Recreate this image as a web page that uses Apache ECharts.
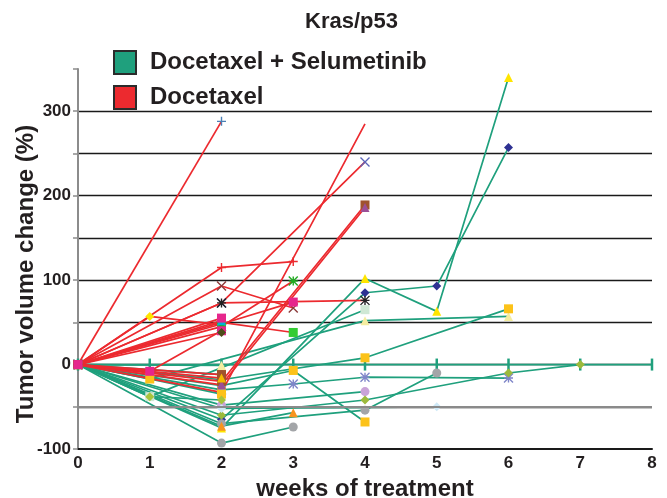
<!DOCTYPE html>
<html>
<head>
<meta charset="utf-8">
<script src="https://cdn.jsdelivr.net/npm/echarts@6/dist/echarts.min.js"></script>
<style>html,body{margin:0;padding:0;background:#fff}#c{width:667px;height:498px}</style>
</head>
<body>
<div id="c"></div>
<script>
// ---- data: weeks of treatment vs tumor volume change (%) ----
const xTicks = [0, 1, 2, 3, 4, 5, 6, 7, 8];
const yLabelValues = [-100, 0, 100, 200, 300];

// Docetaxel + Selumetinib (green)
const ds01 = [[0,0],[1,0],[2,0],[3,0],[4,0],[5,0],[6,0],[7,0],[8,0]];
const ds02 = [[0,0],[2,-75],[4,102],[5,63],[6,340]];
const ds03 = [[0,0],[2,-65],[4,85],[5,93],[6,257]];
const ds04 = [[0,0],[1,-38],[4,65]];
const ds05 = [[0,0],[1,-17],[4,52],[6,57]];
const ds06 = [[0,0],[2,-18],[4,8],[6,66]];
const ds07 = [[0,0],[2,-25],[3,-7],[4,-68]];
const ds08 = [[0,0],[2,-30],[3,-23],[4,-15],[6,-16]];
const ds09 = [[0,0],[2,-48],[4,-32]];
const ds10 = [[0,0],[2,-60],[4,-42],[6,-10],[7,0]];
const ds11 = [[0,0],[2,-70],[4,-54],[5,-10]];
const ds12 = [[0,0],[2,-73],[3,-57]];
const ds13 = [[0,0],[2,-93],[3,-74]];
const ds14 = [[0,0],[2,-52],[5,-50]];
const ds15 = [[0,0],[1,-17],[2,-35]];
const ds16 = [[0,0],[1,-38],[2,-42]];
const ds17 = [[0,0],[2,-1]];
const ds18 = [[0,0],[2,-12]];

// Docetaxel (red)
const dx01 = [[0,0],[2,288]];
const dx02 = [[0,0],[1,57],[2,47]];
const dx03 = [[0,0],[2,115],[3,122]];
const dx04 = [[0,0],[2,93],[3,67]];
const dx05 = [[0,0],[2,73],[4,240]];
const dx06 = [[0,0],[2,73],[4,76]];
const dx07 = [[0,0],[2,48],[3,74]];
const dx08 = [[0,0],[2,50],[3,38]];
const dx09 = [[0,0],[2,45],[3,99]];
const dx10 = [[0,0],[2,-20],[4,189]];
const dx11 = [[0,0],[2,-24],[4,186]];
const dx12 = [[0,0],[2,-33],[4,285]];
const dx13 = [[0,0],[1,-8],[2,40]];
const dx14 = [[0,0],[2,38]];
const dx15 = [[0,0],[2,52]];
const dx16 = [[0,0],[2,-12]];
const dx17 = [[0,0],[2,-16]];
const dx18 = [[0,0],[2,55]];

// ---- styling ----
const GREEN = '#1fa07d';
const RED = '#ec2a2f';
const NAME_G = 'Docetaxel + Selumetinib';
const NAME_R = 'Docetaxel';
const SYM = {
  plus: 'path://M0,5L10,5M5,0L5,10',
  cross: 'path://M0,0L10,10M10,0L0,10',
  star: 'path://M0,0L10,10M10,0L0,10M5,0L5,10M0,5L10,5',
  bar: 'rect', sq: 'rect', tri: 'triangle', dia: 'diamond', cir: 'circle', none: 'none'
};
const strokeSyms = ['plus', 'cross', 'star'];

const greenSet = [
  [ds01, 'bar', GREEN], [ds02, 'tri', '#ffe500'], [ds03, 'dia', '#2e3192'],
  [ds04, 'sq', '#cfe8d4'], [ds05, 'tri', '#f4eda0'], [ds06, 'sq', '#fcc219'],
  [ds07, 'sq', '#fcc219'], [ds08, 'star', '#7f86c9'], [ds09, 'cir', '#c9a3d8'],
  [ds10, 'dia', '#9cba3c'], [ds11, 'cir', '#a3a5a8'], [ds12, 'tri', '#f7941e'],
  [ds13, 'cir', '#a3a5a8'], [ds14, 'dia', '#cfe9f7'], [ds15, 'sq', '#fcc219'],
  [ds16, 'dia', '#a8c43c'], [ds17, 'tri', '#f4eda0'], [ds18, 'sq', '#a0522d']
];
const redSet = [
  [dx01, 'plus', '#4a7fb5'], [dx02, 'dia', '#ffe500'], [dx03, 'plus', RED],
  [dx04, 'cross', '#8b3a3a'], [dx05, 'cross', '#5a64b8'], [dx06, 'star', '#222222'],
  [dx07, 'sq', '#e6268c'], [dx08, 'sq', '#33cc33'], [dx09, 'star', '#22aa22'],
  [dx10, 'sq', '#a0522d'], [dx11, 'tri', '#9b4f96'], [dx12, 'none', RED],
  [dx13, 'sq', '#e6268c'], [dx14, 'dia', '#4d4d1a'], [dx15, 'tri', '#00b0d8'],
  [dx16, 'sq', '#a0522d'], [dx17, 'tri', '#f5b800'], [dx18, 'sq', '#e6268c']
];

function mk(name, lineColor, entry) {
  const [data, sym, c] = entry;
  const stroke = strokeSyms.indexOf(sym) >= 0;
  return {
    type: 'line', name: name, data: data,
    symbol: SYM[sym],
    symbolSize: sym === 'bar' ? [2.5, 12] : 9,
    showSymbol: true,
    lineStyle: { color: lineColor, width: 1.7 },
    itemStyle: stroke ? { color: c, borderColor: c, borderWidth: 1.4 } : { color: c, borderWidth: 0 },
    emphasis: { disabled: true },
    animation: false, z: 2
  };
}

const series = [];
greenSet.forEach(e => series.push(mk(NAME_G, GREEN, e)));
redSet.forEach(e => series.push(mk(NAME_R, RED, e)));
series[0].markLine = {
  silent: true, symbol: 'none', animation: false,
  label: { show: false },
  lineStyle: { color: '#8a8a8a', width: 2, type: 'solid' },
  data: [{ yAxis: -50 }]
};

const FONT = 'Liberation Sans, Arial, sans-serif';
const TXT = '#231f20';

const chart = echarts.init(document.getElementById('c'), null, { renderer: 'canvas' });
chart.setOption({
  animation: false,
  backgroundColor: '#ffffff',
  title: {
    text: 'Kras/p53', left: 300, top: 6,
    textStyle: { fontFamily: FONT, fontWeight: 'bold', fontSize: 22, color: TXT }
  },
  legend: {
    orient: 'vertical', left: 108, top: 45, icon: 'rect',
    itemWidth: 22, itemHeight: 23, itemGap: 10, selectedMode: false,
    textStyle: { fontFamily: FONT, fontWeight: 'bold', fontSize: 24, color: TXT, padding: [0, 0, 0, 9] },
    data: [
      { name: NAME_G, itemStyle: { color: GREEN, borderColor: '#2b2b2b', borderWidth: 2 } },
      { name: NAME_R, itemStyle: { color: RED, borderColor: '#2b2b2b', borderWidth: 2 } }
    ]
  },
  grid: { left: 78, right: 15, top: 69, bottom: 49, containLabel: false, outerBoundsMode: 'none' },
  xAxis: {
    type: 'value', min: xTicks[0], max: xTicks[xTicks.length - 1], interval: 1,
    name: 'weeks of treatment', nameLocation: 'middle', nameGap: 20,
    nameTextStyle: { fontFamily: FONT, fontWeight: 'bold', fontSize: 24, color: TXT },
    axisLine: { show: true, onZero: false, lineStyle: { color: '#1a1a1a', width: 2 } },
    axisTick: { show: false },
    axisLabel: { fontFamily: FONT, fontWeight: 'bold', fontSize: 17, color: TXT, margin: 6 },
    splitLine: { show: false }
  },
  yAxis: {
    type: 'value', min: -100, max: 350, interval: 50,
    axisLine: { show: true, onZero: false, lineStyle: { color: '#8c8c8c', width: 2 } },
    axisTick: { show: true, length: 5, lineStyle: { color: '#8c8c8c', width: 1.5 } },
    axisLabel: {
      fontFamily: FONT, fontWeight: 'bold', fontSize: 17, color: TXT, margin: 7,
      formatter: v => (yLabelValues.indexOf(v) >= 0 ? String(v) : '')
    },
    splitLine: { show: true, showMinLine: false, showMaxLine: false, lineStyle: { color: '#1a1a1a', width: 1.3 } }
  },
  graphic: [{
    type: 'text', x: 26, y: 274, rotation: Math.PI / 2,
    style: {
      text: 'Tumor volume change (%)', fontFamily: FONT, fontWeight: 'bold', fontSize: 24,
      fill: TXT, textAlign: 'center', textVerticalAlign: 'middle'
    }
  }],
  series: series
});
</script>
</body>
</html>
